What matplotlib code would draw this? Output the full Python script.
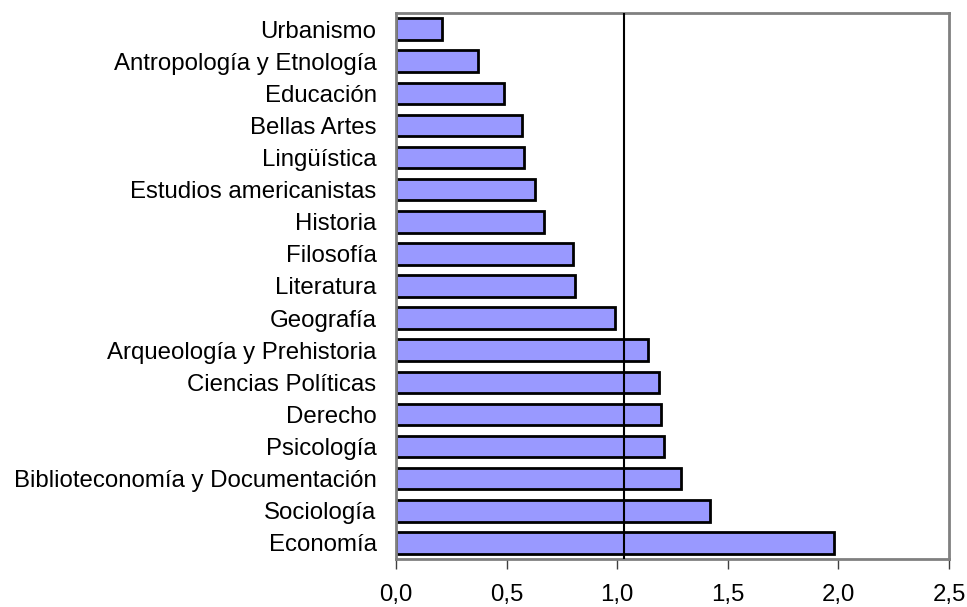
import matplotlib
matplotlib.use("Agg")
import matplotlib.pyplot as plt

plt.rcParams['font.family'] = ['Liberation Sans', 'DejaVu Sans']

areas = ['Urbanismo', 'Antropología y Etnología', 'Educación', 'Bellas Artes',
         'Lingüística', 'Estudios americanistas', 'Historia', 'Filosofía',
         'Literatura', 'Geografía', 'Arqueología y Prehistoria',
         'Ciencias Políticas', 'Derecho', 'Psicología',
         'Biblioteconomía y Documentación', 'Sociología', 'Economía']
values = [0.21, 0.37, 0.49, 0.57, 0.58, 0.63, 0.67, 0.80, 0.81, 0.99,
          1.14, 1.19, 1.20, 1.21, 1.29, 1.42, 1.98]
ref_line = 1.03
xticks = [0.0, 0.5, 1.0, 1.5, 2.0, 2.5]

fig = plt.figure(figsize=(9.67, 6.07), dpi=100)
ax = fig.add_axes([396/967, 1-559/607, 553/967, 546/607])

ypos = list(range(len(areas)))[::-1]
ax.barh(ypos, values, height=0.67, color='#9999FF', edgecolor='black', linewidth=2, zorder=2)
ax.axvline(ref_line, color='black', linewidth=1.5, zorder=3)

ax.set_xlim(0, 2.5)
ax.set_ylim(-0.5, len(areas)-0.5)
ax.set_yticks(ypos)
ax.set_yticklabels(areas, fontsize=17.3)
ax.set_xticks(xticks)
ax.set_xticklabels([('%.1f' % t).replace('.', ',') for t in xticks], fontsize=17.3)
ax.tick_params(axis='y', length=0, pad=14)
ax.tick_params(axis='x', length=7, width=1, color='#404040', pad=11)
for s in ax.spines.values():
    s.set_color('#808080')
    s.set_linewidth(2)

fig.savefig('out.png', dpi=100)
